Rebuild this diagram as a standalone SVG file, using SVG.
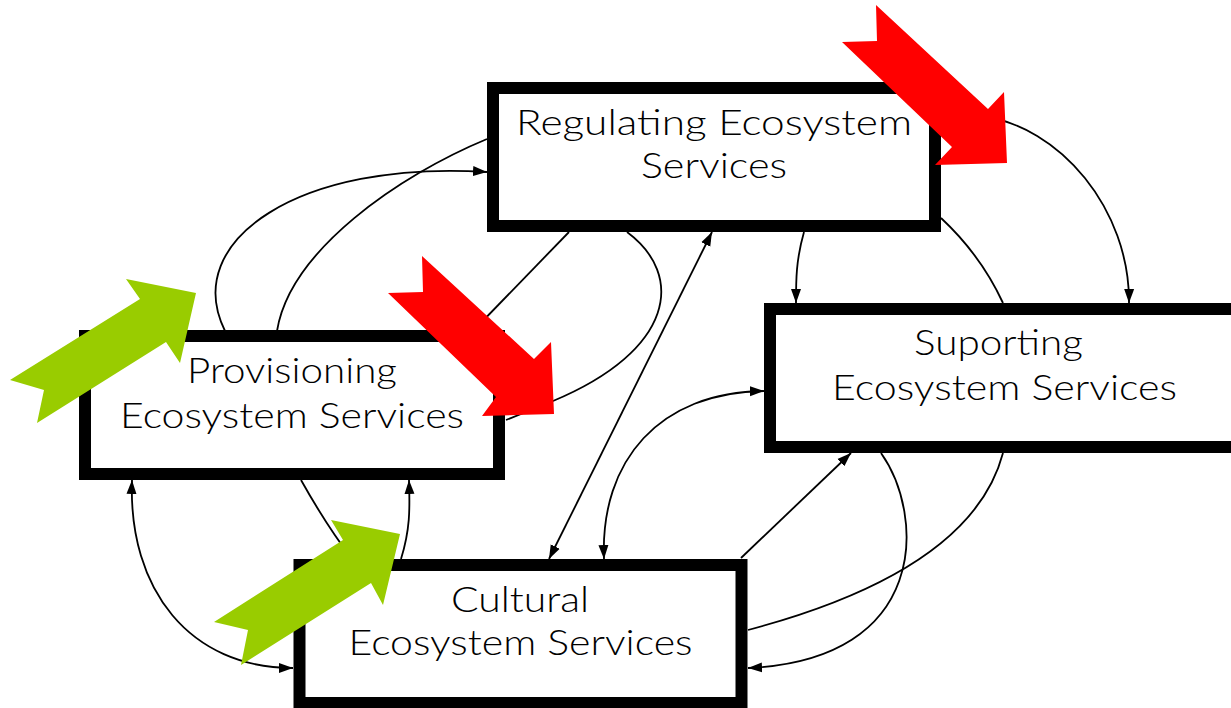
<svg xmlns="http://www.w3.org/2000/svg" width="1231" height="708" viewBox="0 0 1231 708">
<style>
.box{fill:#fff;stroke:#000;stroke-width:12}
.lbl{font-family:Lato,'Liberation Sans',sans-serif;font-size:36px;font-weight:300;fill:#000;text-anchor:middle}
.c{fill:none;stroke:#000;stroke-width:1.8}
.ae{marker-end:url(#ah)}
.as{marker-start:url(#ah)}
.green{fill:#99CC00}
.red{fill:#FF0000}
</style>
<defs>
<marker id="ah" viewBox="0 0 14 10" refX="14" refY="5" markerWidth="14" markerHeight="11" markerUnits="userSpaceOnUse" orient="auto-start-reverse">
<path d="M0,0 L14,5 L0,10 Z" fill="#000"/>
</marker>
</defs>
<rect width="1231" height="708" fill="#fff"/>
<g id="connectors">
<path class="c" d="M487,139 C400,175 290,250 277,331"/>
<path class="c ae" d="M225,331 C180,240 300,160 487,172"/>
<path class="c" d="M627,232 C685,275 675,350 553,401 L506,420"/>
<path class="c" d="M569,232 L474,330"/>
<path class="c as ae" d="M712,232 L549,559"/>
<path class="c ae" d="M804,232 C796,260 796,280 796,303"/>
<path class="c" d="M941,218 C970,245 990,275 1003,303"/>
<path class="c ae" d="M980,116 C1060,125 1130,210 1129,303"/>
<path class="c as ae" d="M604,559 C600,460 660,392 764,391"/>
<path class="c ae" d="M741,558 L851,453"/>
<path class="c ae" d="M881,453 C925,515 930,660 748,668"/>
<path class="c" d="M1003,453 C980,540 880,595 748,630"/>
<path class="c as ae" d="M132,480 C128,590 190,668 293,668"/>
<path class="c ae" d="M401,559 C410,530 410,510 409,480"/>
<path class="c" d="M301,480 C315,505 330,530 352,559"/>
</g>
<g id="regulating">
<rect class="box" x="493" y="88" width="442" height="138"/>
<text class="lbl" x="714" y="135" textLength="396" lengthAdjust="spacingAndGlyphs">Regulating Ecosystem</text>
<text class="lbl" x="714" y="178" textLength="146" lengthAdjust="spacingAndGlyphs">Services</text>
</g>
<g id="provisioning">
<rect class="box" x="85" y="336" width="414" height="138"/>
<text class="lbl" x="292" y="383" textLength="210" lengthAdjust="spacingAndGlyphs">Provisioning</text>
<text class="lbl" x="292" y="428" textLength="344" lengthAdjust="spacingAndGlyphs">Ecosystem Services</text>
</g>
<g id="suporting">
<rect class="box" x="770" y="309" width="480" height="138"/>
<text class="lbl" x="998.5" y="355" textLength="169" lengthAdjust="spacingAndGlyphs">Suporting</text>
<text class="lbl" x="1004.5" y="400" textLength="345" lengthAdjust="spacingAndGlyphs">Ecosystem Services</text>
</g>
<g id="cultural">
<rect class="box" x="299.5" y="565" width="442" height="138"/>
<text class="lbl" x="520" y="612" textLength="138" lengthAdjust="spacingAndGlyphs">Cultural</text>
<text class="lbl" x="520.5" y="655" textLength="344" lengthAdjust="spacingAndGlyphs">Ecosystem Services</text>
</g>
<g id="green-arrow-1">
<polygon class="green" points="10,380 140,299 126,279 196,293 180,363 166,342 37,423 44,390"/>
</g>
<g id="green-arrow-2">
<polygon class="green" points="214,622 343,540 331,520 400,534 383,605 371,583 241,665 248,630"/>
</g>
<g id="red-arrow-1">
<polygon class="red" points="422,256 534,359 551,342 554,414 482,416 496,397 388,293 423,292"/>
</g>
<g id="red-arrow-2">
<polygon class="red" points="876,5 988,109 1004,92 1007,163 935,165 952,147 842,42 877,41"/>
</g>
</svg>
